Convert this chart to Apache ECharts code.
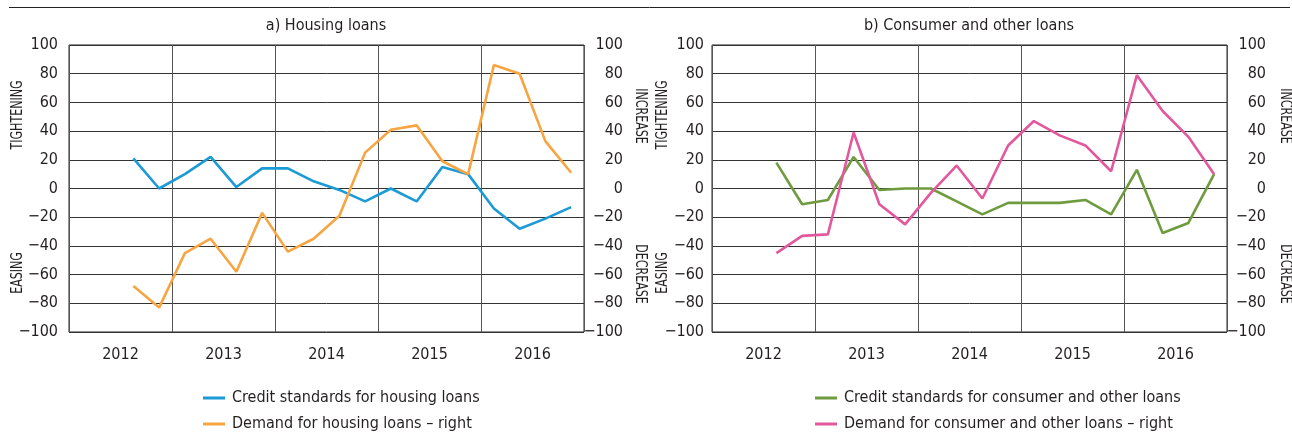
<!DOCTYPE html>
<html><head><meta charset="utf-8">
<script src="https://cdn.jsdelivr.net/npm/echarts@6/dist/echarts.min.js"></script>
<style>html,body{margin:0;padding:0;background:#fff}#c{width:1292px;height:434px}</style>
</head><body><div id="c"></div>
<script>
// ---- data ----
const years = ['2012', '2013', '2014', '2015', '2016'];
const quarters = ['2012Q1','2012Q2','2012Q3','2012Q4','2013Q1','2013Q2','2013Q3','2013Q4',
  '2014Q1','2014Q2','2014Q3','2014Q4','2015Q1','2015Q2','2015Q3','2015Q4',
  '2016Q1','2016Q2','2016Q3','2016Q4'];
const firstQuarter = '2012Q3';
const yTicks = [-100, -80, -60, -40, -20, 0, 20, 40, 60, 80, 100];
const housingCredit = [21, 0, 10, 22, 1, 14, 14, 5, -1, -9, 0, -9, 15, 10, -14, -28, -21, -13];
const housingDemand = [-68, -83, -45, -35, -58, -17, -44, -35, -19, 25, 41, 44, 19, 10, 86, 80, 33, 11];
const consumerCredit = [18, -11, -8, 22, -1, 0, 0, -9, -18, -10, -10, -10, -8, -18, 13, -31, -24, 10];
const consumerDemand = [-45, -33, -32, 39, -11, -25, -3, 16, -7, 30, 47, 37, 30, 12, 79, 54, 36, 10];
const names = {
  hc: 'Credit standards for housing loans',
  hd: 'Demand for housing loans – right',
  cc: 'Credit standards for consumer and other loans',
  cd: 'Demand for consumer and other loans – right'
};

const FONT = '"Liberation Sans Narrow", "DejaVu Sans Condensed", "Liberation Sans", sans-serif';
const TXT = '#231f20';
const offset = quarters.indexOf(firstQuarter);
const pad = arr => quarters.map((q, i) => (i >= offset && i - offset < arr.length) ? arr[i - offset] : null);
const fmt = v => String(v).replace('-', '\u2212');

const G = [{left: 69, top: 45, width: 515, height: 287}, {left: 712, top: 45, width: 515, height: 287}];
const labelMargins = [[11, 39], [8, 39]];

const grids = G.map(g => Object.assign({show: true, borderColor: '#222', borderWidth: 1, containLabel: false}, g));
const xAxes = [], yAxes = [];
G.forEach((g, i) => {
  xAxes.push({type: 'category', gridIndex: i, data: years, boundaryGap: true,
    axisLine: {show: false}, axisTick: {show: false},
    axisLabel: {fontFamily: FONT, fontSize: 16, color: TXT, margin: 15},
    splitLine: {show: true, lineStyle: {color: '#555', width: 1}}});
  xAxes.push({type: 'category', gridIndex: i, data: quarters, boundaryGap: true, show: false});
  yAxes.push({type: 'value', gridIndex: i, position: 'left', min: yTicks[0], max: yTicks[yTicks.length-1], interval: 20,
    axisLine: {show: false}, axisTick: {show: false},
    axisLabel: {fontFamily: FONT, fontSize: 16, color: TXT, margin: labelMargins[i][0], formatter: fmt},
    splitLine: {show: true, lineStyle: {color: '#333', width: 1}}});
  yAxes.push({type: 'value', gridIndex: i, position: 'right', min: yTicks[0], max: yTicks[yTicks.length-1], interval: 20,
    axisLine: {show: false}, axisTick: {show: false},
    axisLabel: {fontFamily: FONT, fontSize: 16, color: TXT, align: 'right', margin: labelMargins[i][1], formatter: fmt},
    splitLine: {show: false}});
});

const line = (name, data, color, xi, yi) => ({
  name, type: 'line', data: pad(data), xAxisIndex: xi, yAxisIndex: yi,
  symbol: 'none', lineStyle: {color, width: 2.6}, itemStyle: {color}, z: 3, animation: false
});

const rotText = (text, x, y, rot) => ({
  type: 'text', x, y, rotation: rot, scaleX: 0.82,
  style: {text, fontFamily: FONT, fontSize: 15, fill: TXT, align: 'center', verticalAlign: 'middle'}
});

const legendBase = {orient: 'vertical', icon: 'rect', itemWidth: 22, itemHeight: 3, itemGap: 10,
  textStyle: {fontFamily: FONT, fontSize: 16, color: TXT, lineHeight: 16, padding: [0, 0, 0, 2]}, padding: 0};

const chart = echarts.init(document.getElementById('c'), null, {renderer: 'canvas'});
chart.setOption({
  animation: false,
  backgroundColor: '#fff',
  grid: grids,
  xAxis: xAxes,
  yAxis: yAxes,
  legend: [
    Object.assign({}, legendBase, {left: 203, top: 390, data: [names.hc, names.hd]}),
    Object.assign({}, legendBase, {left: 815, top: 390, data: [names.cc, names.cd]})
  ],
  title: [
    {text: 'a) Housing loans', left: 326, top: 18, textAlign: 'center', padding: 0,
      textStyle: {fontFamily: FONT, fontSize: 16, fontWeight: 'normal', color: TXT}},
    {text: 'b) Consumer and other loans', left: 969, top: 18, textAlign: 'center', padding: 0,
      textStyle: {fontFamily: FONT, fontSize: 16, fontWeight: 'normal', color: TXT}}
  ],
  graphic: [
    {type: 'line', shape: {x1: 9, y1: 7.5, x2: 1290, y2: 7.5}, style: {stroke: '#222', lineWidth: 1}},
    rotText('TIGHTENING', 18, 115, Math.PI/2),
    rotText('EASING', 18, 273, Math.PI/2),
    rotText('INCREASE', 640, 116, -Math.PI/2),
    rotText('DECREASE', 640, 274, -Math.PI/2),
    rotText('TIGHTENING', 663, 115, Math.PI/2),
    rotText('EASING', 663, 273, Math.PI/2),
    rotText('INCREASE', 1285, 116, -Math.PI/2),
    rotText('DECREASE', 1285, 274, -Math.PI/2)
  ],
  series: [
    line(names.hc, housingCredit, '#1b9ad6', 1, 0),
    line(names.hd, housingDemand, '#f7a442', 1, 1),
    line(names.cc, consumerCredit, '#6e9b3e', 3, 2),
    line(names.cd, consumerDemand, '#e3589d', 3, 3)
  ]
});
</script></body></html>
